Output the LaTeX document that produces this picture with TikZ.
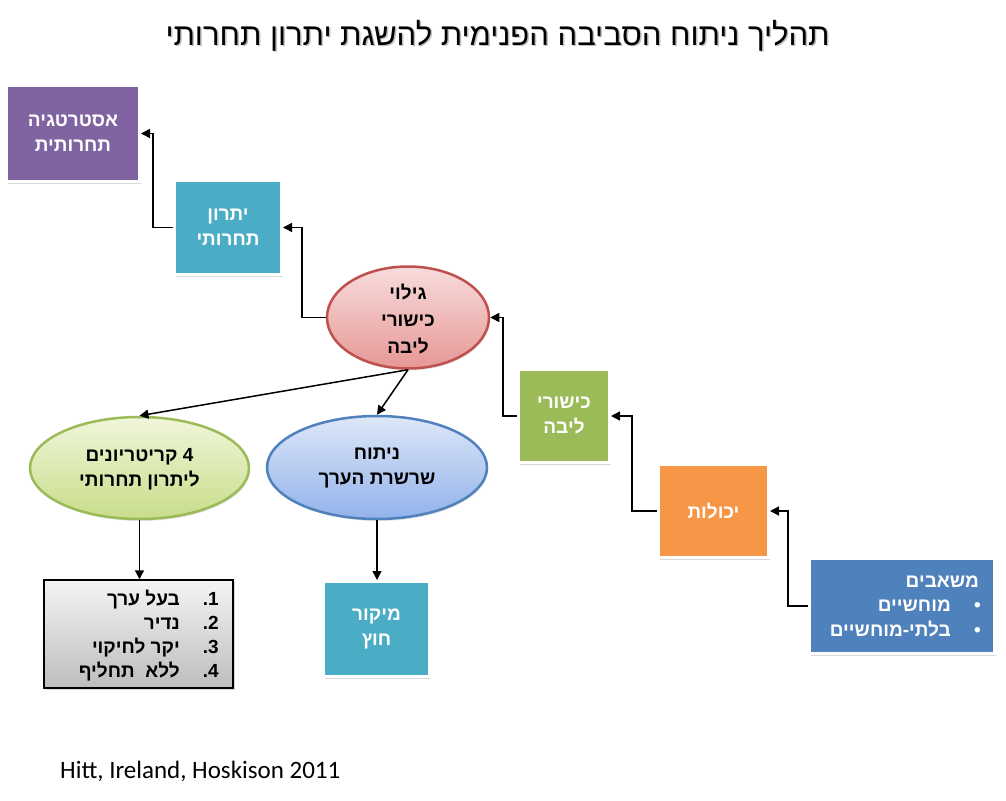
\documentclass[tikz,border=0pt]{standalone}
\usepackage{fontspec}
\setmainfont{Liberation Sans}
\newfontfamily\heb[Script=Hebrew]{Liberation Sans}
\newfontfamily\calfont{Carlito}
\TeXXeTstate=1
\usetikzlibrary{shapes.geometric,shadows,arrows.meta}
\newcommand{\RL}[1]{\beginR #1\endR}
\newcommand{\rnum}[1]{{.}\kern0pt #1}
\definecolor{cpurple}{HTML}{8064A2}
\definecolor{cteal}{HTML}{4BACC6}
\definecolor{cgreen}{HTML}{9BBB59}
\definecolor{corange}{HTML}{F79646}
\definecolor{cblue}{HTML}{4F81BD}
\definecolor{redB}{HTML}{C0504D}
\definecolor{redT}{HTML}{F8DCDC}
\definecolor{redD}{HTML}{E69896}
\definecolor{grnT}{HTML}{F0F6DA}
\definecolor{grnD}{HTML}{C8DD8A}
\definecolor{bluT}{HTML}{DDE7F8}
\definecolor{bluD}{HTML}{92B2EA}
\definecolor{gryT}{HTML}{F4F4F4}
\definecolor{gryD}{HTML}{BDBDBD}
\begin{document}
\begin{tikzpicture}[x=1pt,y=-1pt,
  frame/.style={rectangle, draw=white, line width=3pt, inner sep=0pt, text=white,
    font=\heb\bfseries\fontsize{19}{25}\selectfont, align=center,
    drop shadow={shadow xshift=1.5pt, shadow yshift=-2pt, opacity=0.3}},
  oval/.style={ellipse, line width=2.5pt, inner sep=0pt,
    drop shadow={shadow xshift=1pt, shadow yshift=-2pt, opacity=0.2}},
  lab/.style={font=\heb\bfseries\fontsize{19}{25}\selectfont, align=center, text=black, inner sep=0pt},
  item/.style={inner sep=0pt, font=\heb\bfseries\fontsize{19}{24}\selectfont},
  numb/.style={inner sep=0pt, font=\bfseries\fontsize{19}{24}\selectfont},
  arr/.style={-{Triangle[length=9pt,width=9pt]}, line width=1.5pt, black}]
\fill[white] (0,0) rectangle (1006,800);
\useasboundingbox (0,0) rectangle (1006,800);

% title
\node[font=\heb\fontsize{31}{33}\selectfont, text=black!25] (titles) at (499,37) {\RL{תהליך ניתוח הסביבה הפנימית להשגת יתרון תחרותי}};
\node[font=\heb\fontsize{31}{33}\selectfont] (title) at (497.5,35.5) {\RL{תהליך ניתוח הסביבה הפנימית להשגת יתרון תחרותי}};

% boxes
\node[frame, fill=cpurple, minimum width=133pt, minimum height=96pt] (strat) at (73,133.5) {\RL{אסטרטגיה}\\\RL{תחרותית}};
\node[frame, fill=cteal, minimum width=107pt, minimum height=94pt] (adv) at (228,227.5) {\RL{יתרון}\\\RL{תחרותי}};
\node[frame, fill=cgreen, minimum width=91pt, minimum height=93pt] (comp) at (564,416) {\RL{כישורי}\\\RL{ליבה}};
\node[frame, fill=corange, minimum width=110pt, minimum height=93pt] (cap) at (713.5,511) {\RL{יכולות}};
\node[frame, fill=cblue, minimum width=185pt, minimum height=95pt] (res) at (902,606) {};
\node[item, text=white, anchor=base east] (res0) at (979,587) {\RL{משאבים}};
\node[item, text=white, anchor=base east] (res1) at (951,611.5) {\RL{מוחשיים}};
\node[item, text=white, anchor=base east] (res2) at (951,636) {\RL{בלתי\kern0pt-\kern0pt מוחשיים}};
\node[item, text=white, anchor=base] (b1) at (977.5,611.5) {\textbullet};
\node[item, text=white, anchor=base] (b2) at (977.5,636) {\textbullet};
\node[frame, fill=cteal, minimum width=106pt, minimum height=95pt] (out) at (376.5,629) {\RL{מיקור}\\\RL{חוץ}};

% ellipses
\node[oval, draw=redB, top color=redT, bottom color=redD, minimum width=162pt, minimum height=102pt] (core) at (408,317.5) {};
\node[lab, font=\heb\bfseries\fontsize{19}{27}\selectfont] (coret) at (408,319) {\RL{גילוי}\\\RL{כישורי}\\\RL{ליבה}};
\node[oval, draw=cgreen, top color=grnT, bottom color=grnD, minimum width=219pt, minimum height=102pt] (crit) at (139.5,468) {};
\node[lab] (critt) at (139.5,469) {\RL{4 קריטריונים}\\\RL{ליתרון תחרותי}};
\node[oval, draw=cblue, top color=bluT, bottom color=bluD, minimum width=220pt, minimum height=103pt] (vc) at (377,467.5) {};
\node[lab] (vct) at (377,468) {\RL{ניתוח}\\\RL{שרשרת הערך}};

% list box
\node[rectangle, draw=black, line width=1.5pt, top color=gryT, bottom color=gryD, minimum width=189pt, minimum height=108pt, inner sep=0pt,
  drop shadow={shadow xshift=1.5pt, shadow yshift=-2pt, opacity=0.3}] (list) at (138.5,634) {};
\node[item, anchor=base east] (l1) at (180,605) {\RL{בעל ערך}};
\node[item, anchor=base east] (l2) at (180,629) {\RL{נדיר}};
\node[item, anchor=base east] (l3) at (180,653) {\RL{יקר לחיקוי}};
\node[item, anchor=base east] (l4) at (180,677) {\RL{ללא\ \ תחליף}};
\node[numb, anchor=base east] (n1) at (219,605) {\rnum{1}};
\node[numb, anchor=base east] (n2) at (219,629) {\rnum{2}};
\node[numb, anchor=base east] (n3) at (219,653) {\rnum{3}};
\node[numb, anchor=base east] (n4) at (219,677) {\rnum{4}};

% citation
\node[anchor=base west, inner sep=0pt, font=\calfont\fontsize{25}{28}\selectfont] (cite) at (60,778) {Hitt, Ireland, Hoskison 2011};

% connectors
\draw[arr] (adv.west) -- ++(-20,0) |- (strat.east);
\draw[arr] (core.west) -- ++(-24,0) |- (adv.east);
\draw[arr] (comp.west) -- ++(-14,0) |- (core.east);
\draw[arr] (cap.west) -- ++(-25,0) |- (comp.east);
\draw[arr] (res.west) -- ++(-20,0) |- (cap.east);
\draw[arr] (core.south) -- (crit.north);
\draw[arr] (core.south) -- (vc.north);
\draw[arr] (crit.south) -- (crit.south |- list.north);
\draw[arr] (vc.south) -- (vc.south |- out.north);
\end{tikzpicture}
\end{document}
